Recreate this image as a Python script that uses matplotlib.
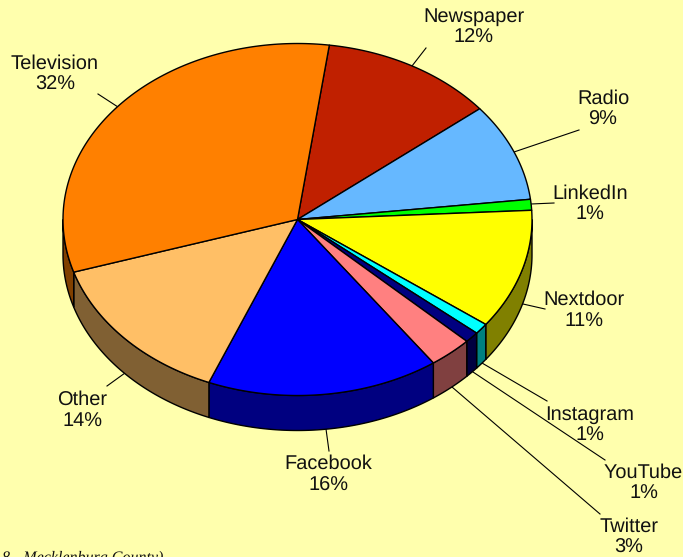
import numpy as np
import matplotlib
matplotlib.use('Agg')
import matplotlib.pyplot as plt

plt.rcParams['text.hinting'] = 'no_hinting'
plt.rcParams['text.hinting_factor'] = 1

# clockwise from the top, first slice starts just right of 12 o'clock
categories = ['Newspaper', 'Radio', 'LinkedIn', 'Nextdoor', 'Instagram',
              'YouTube', 'Twitter', 'Facebook', 'Other', 'Television']
values = [12, 9, 1, 11, 1, 1, 3, 16, 14, 32]

top_colors = ['#C02000', '#66B8FF', '#00FF00', '#FFFF00', '#00FFFF',
              '#000080', '#FF8080', '#0000FF', '#FFBF66', '#FF8000']
side_colors = ['#601000', '#335C80', '#008000', '#808000', '#008080',
               '#000040', '#804040', '#000080', '#806033', '#804000']

start_angle = 7.8
cx, cy = 297.5, 219.5
rx, ry = 234.5, 176
depth = 35
bg = '#FFFFAD'

# label position (center of text) and leader line, in image pixels
label_pos = {
    'Newspaper': (473.5, 27), 'Radio': (603, 109), 'LinkedIn': (590, 204),
    'Nextdoor': (583.5, 310.5), 'Instagram': (589.5, 425), 'YouTube': (643.5, 483),
    'Twitter': (629, 537), 'Facebook': (328.5, 474.5), 'Other': (82, 410.5),
    'Television': (55, 74),
}
leaders = {
    'Newspaper': ((412, 66), (426, 48)),
    'Radio': ((514, 152), (579, 130)),
    'LinkedIn': ((531, 204), (554, 203)),
    'Nextdoor': ((523, 304), (545, 309)),
    'Instagram': ((482, 363), (547, 401)),
    'YouTube': ((473, 372), (605, 460)),
    'Twitter': ((452, 387), (600, 514)),
    'Facebook': ((326, 429), (329, 451)),
    'Other': ((125, 373), (107, 386)),
    'Television': ((118, 107), (98, 94)),
}


def edge(theta):
    t = np.radians(theta)
    return cx + rx * np.sin(t), cy - ry * np.cos(t)


fig = plt.figure(figsize=(6.83, 5.57), dpi=100, facecolor=bg)
ax = fig.add_axes([0, 0, 1, 1])
ax.set_xlim(0, 683)
ax.set_ylim(557, 0)
ax.axis('off')

angles = start_angle + np.cumsum([0] + values) * 3.6

# side wall first, only the front half shows
for i, name in enumerate(categories):
    a0, a1 = max(angles[i], 90), min(angles[i + 1], 270)
    if a1 <= a0:
        continue
    th = np.linspace(a0, a1, 80)
    x, y = edge(th)
    ax.fill(np.r_[x, x[::-1]], np.r_[y, y[::-1] + depth],
            facecolor=side_colors[i], edgecolor='black', lw=1.0, zorder=2)

for i, name in enumerate(categories):
    th = np.linspace(angles[i], angles[i + 1], 120)
    x, y = edge(th)
    ax.fill(np.r_[cx, x], np.r_[cy, y], facecolor=top_colors[i],
            edgecolor='black', lw=1.0, joinstyle='round', zorder=3)

for i, name in enumerate(categories):
    (x0, y0), (x1, y1) = leaders[name]
    ax.plot([x0, x1], [y0, y1], color='black', lw=0.8, zorder=1)
    lx, ly = label_pos[name]
    ax.text(lx, ly, f'{name}\n{values[i]}%', ha='center', va='center',
            fontsize=14.2, family='Liberation Sans', color='#111111',
            linespacing=1.2, zorder=5)

# source line cut off by the image edge
ax.text(163, 562, '8 - Mecklenburg County)', fontsize=11.5, style='italic',
        family='Liberation Serif', color='#111111', ha='right', va='baseline')

fig.savefig('out.png', dpi=100, facecolor=bg)
